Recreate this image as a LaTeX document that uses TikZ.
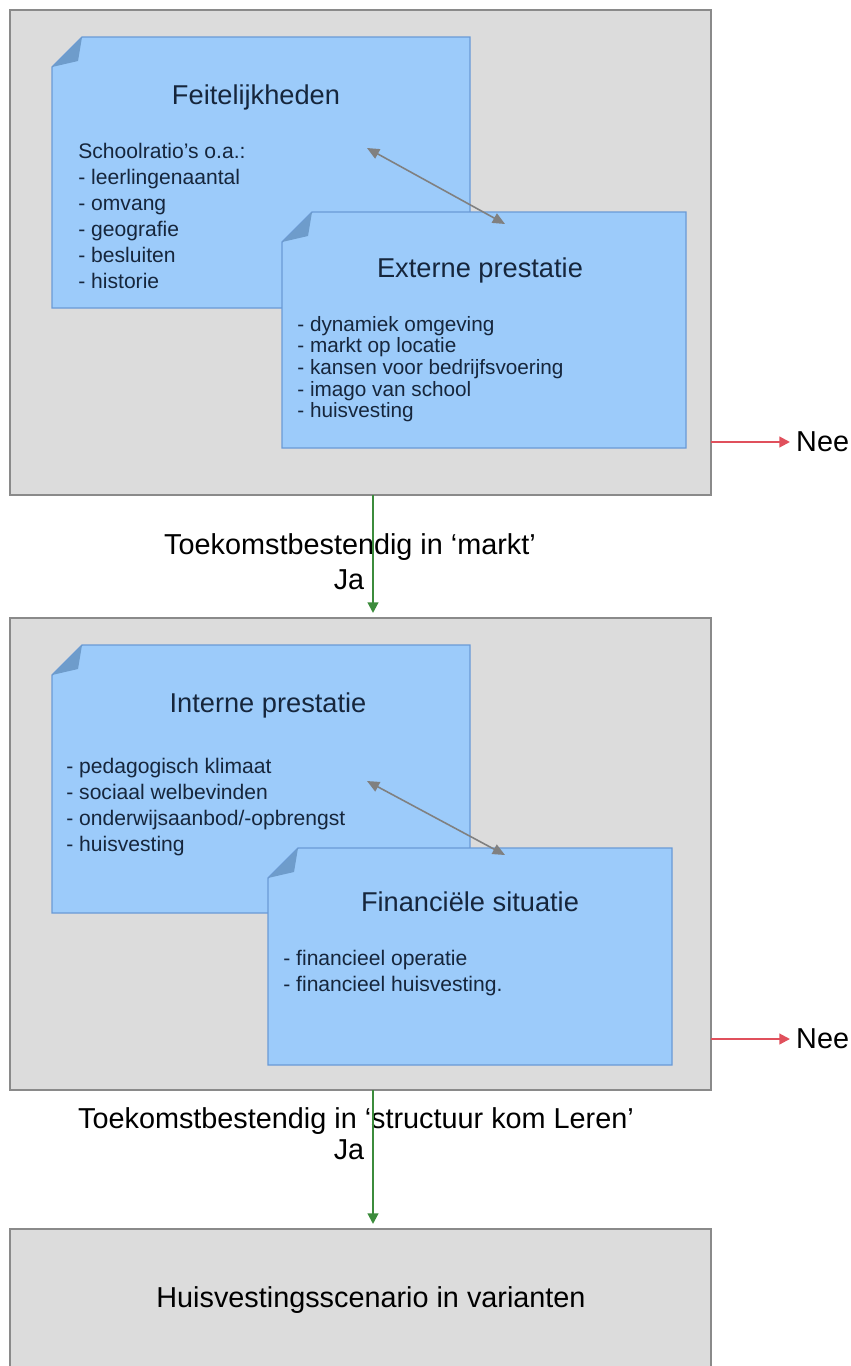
\documentclass[tikz,border=0pt]{standalone}
\usepackage{fontspec}
\setmainfont{Liberation Sans}
\usetikzlibrary{arrows.meta}

\definecolor{panelfill}{HTML}{DCDCDC}
\definecolor{paneledge}{HTML}{8A8A8A}
\definecolor{notefill}{HTML}{9CCBFA}
\definecolor{noteedge}{HTML}{6A9AD6}
\definecolor{notefold}{HTML}{6E9CCB}
\definecolor{notetext}{HTML}{16263C}
\definecolor{linkgray}{HTML}{808080}
\definecolor{neered}{HTML}{E0505C}
\definecolor{jagreen}{HTML}{3C8C3C}

% note card with a folded top left corner: x0, y0, x1, y1 (px)
\newcommand{\notecard}[4]{%
  \filldraw[fill=notefill, draw=noteedge, line width=0.8pt]
    (#1,#2+30) -- (#1+30,#2) -- (#3,#2) -- (#3,#4) -- (#1,#4) -- cycle;
  \fill[notefold] (#1,#2+30) -- (#1+30,#2) -- (#1+26,#2+24) -- cycle;
}

\begin{document}
\begin{tikzpicture}[x=0.02cm, y=-0.02cm,
    panel/.style={fill=panelfill, draw=paneledge, line width=1.2pt},
    title/.style={font=\fontsize{15.5}{18}\selectfont, text=notetext},
    list/.style={font=\fontsize{12}{14.8}\selectfont, text=notetext, align=left, anchor=north west, inner sep=0pt},
    label/.style={font=\fontsize{16.4}{19}\selectfont},
    link/.style={draw=linkgray, line width=0.9pt, {Triangle[length=7pt, width=6pt]}-{Triangle[length=7pt, width=6pt]}},
    nee/.style={draw=neered, line width=1.2pt, -{Triangle[length=6pt, width=6pt]}},
    ja/.style={draw=jagreen, line width=1.2pt, -{Triangle[length=6pt, width=6pt]}}]
    \useasboundingbox (0,0) rectangle (850,1366);
    % Panels
    \path[panel] (10,10) rectangle (711,495);
    \path[panel] (10,618) rectangle (711,1090);
    \path[panel] (10,1229) rectangle (711,1400);
    % Notes, first panel
    \notecard{52}{37}{470}{308}
    \node[title] (Feiten) at (256,97) {Feitelijkheden};
    \node[list] (Feitenlijst) at (78,143) {Schoolratio’s o.a.:\\- leerlingenaantal\\- omvang\\- geografie\\- besluiten\\- historie};
    \notecard{282}{212}{686}{448}
    \node[title] (Extern) at (480,270) {Externe prestatie};
    \node[list, font=\fontsize{11.8}{12.3}\selectfont] (Externlijst) at (297,316) {- dynamiek omgeving\\- markt op locatie\\- kansen voor bedrijfsvoering\\- imago van school\\- huisvesting};
    \coordinate (Feiten link) at (367,148);
    \coordinate (Extern link) at (505,224);
    % Notes, second panel
    \notecard{52}{645}{470}{913}
    \node[title] (Intern) at (268,705) {Interne prestatie};
    \node[list] (Internlijst) at (66,758) {- pedagogisch klimaat\\- sociaal welbevinden\\- onderwijsaanbod/-opbrengst\\- huisvesting};
    \notecard{268}{848}{672}{1065}
    \node[title] (Financieel) at (470,902) {Financiële situatie};
    \node[list] (Financieellijst) at (283,950) {- financieel operatie\\- financieel huisvesting.};
    \coordinate (Intern link) at (367,781);
    \coordinate (Financieel link) at (505,855);
    % Outcomes
    \coordinate (Panel1 right) at (711,442);
    \coordinate (Panel2 right) at (711,1039);
    \node[label, anchor=west] (Nee1) at (790,442) {Nee};
    \node[label, anchor=west] (Nee2) at (790,1039) {Nee};
    \node[label] (Markt) at (350,547) {Toekomstbestendig in ‘markt’};
    \node[label] (Ja1) at (349,580) {Ja};
    \node[label] (Structuur) at (356,1121) {Toekomstbestendig in ‘structuur kom Leren’};
    \node[label] (Ja2) at (349,1150) {Ja};
    \node[label] (Scenario) at (371,1300) {Huisvestingsscenario in varianten};
    \coordinate (Panel1 bottom) at (373,495);
    \coordinate (Panel2 top) at (373,613);
    \coordinate (Panel2 bottom) at (373,1090);
    \coordinate (Panel3 top) at (373,1224);
    % Arrows
    \draw[link] (Feiten link) -- (Extern link);
    \draw[link] (Intern link) -- (Financieel link);
    \draw[nee] (Panel1 right) -- (Nee1);
    \draw[nee] (Panel2 right) -- (Nee2);
    \draw[ja] (Panel1 bottom) -- (Panel2 top);
    \draw[ja] (Panel2 bottom) -- (Panel3 top);
\end{tikzpicture}
\end{document}
